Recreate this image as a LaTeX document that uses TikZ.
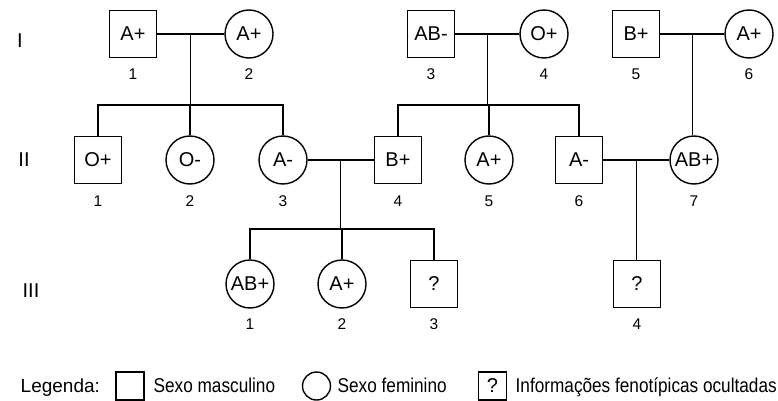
\documentclass[tikz,border=0pt]{standalone}
\usepackage{fontspec}
\setmainfont{Liberation Sans}
\newfontfamily\legfont{Liberation Sans}[FakeStretch=0.86]
\usetikzlibrary{calc}
\begin{document}
\begin{tikzpicture}[x=1pt,y=-1pt,
  line width=1.4pt,
  every node/.style={text=black},
  male/.style={draw, rectangle, minimum size=47pt, inner sep=0pt, font=\fontsize{20}{24}\selectfont},
  female/.style={draw, circle, minimum size=48pt, inner sep=0pt, font=\fontsize{20}{24}\selectfont},
  num/.style={font=\fontsize{15.5}{18}\selectfont, inner sep=0pt, anchor=base},
  gen/.style={font=\fontsize{20}{24}\selectfont, inner sep=0pt},
  legtxt/.style={font=\legfont\fontsize{20}{24}\selectfont, inner sep=0pt, anchor=base west},
  smallmale/.style={male, minimum size=28pt},
  smallfemale/.style={female, minimum size=28pt}
]
\useasboundingbox (0,0) rectangle (778,401);

% generation labels
\node[gen] (gI) at (20,41) {I};
\node[gen] (gII) at (24,160) {II};
\node[gen] (gIII) at (31,291) {III};

% generation I
\node[male] (I1) at (133,34) {A+};
\node[female] (I2) at (249,34) {A+};
\node[male] (I3) at (431,34) {AB-};
\node[female] (I4) at (544,34) {O+};
\node[male] (I5) at (636,34) {B+};
\node[female] (I6) at (749,34) {A+};
\node[num] (nI1) at (133,80) {1};
\node[num] (nI2) at (249,80) {2};
\node[num] (nI3) at (431,80) {3};
\node[num] (nI4) at (544,80) {4};
\node[num] (nI5) at (636,80) {5};
\node[num] (nI6) at (749,80) {6};

% generation II
\node[male] (II1) at (98,160) {O+};
\node[female] (II2) at (190,160) {O-};
\node[female] (II3) at (283,160) {A-};
\node[male] (II4) at (398,160) {B+};
\node[female] (II5) at (489,160) {A+};
\node[male] (II6) at (579,160) {A-};
\node[female] (II7) at (694,160) {AB+};
\node[num] (nII1) at (98,206) {1};
\node[num] (nII2) at (190,206) {2};
\node[num] (nII3) at (283,206) {3};
\node[num] (nII4) at (398,206) {4};
\node[num] (nII5) at (489,206) {5};
\node[num] (nII6) at (579,206) {6};
\node[num] (nII7) at (694,206) {7};

% generation III
\node[female] (III1) at (250,284) {AB+};
\node[female] (III2) at (342,284) {A+};
\node[male] (III3) at (434,284) {?};
\node[male] (III4) at (637,284) {?};
\node[num] (nIII1) at (250,329) {1};
\node[num] (nIII2) at (342,329) {2};
\node[num] (nIII3) at (434,329) {3};
\node[num] (nIII4) at (637,329) {4};

% couple I1 x I2
\draw (I1) -- (I2);
\coordinate (m1) at ($(I1.east)!0.5!(I2.west)$);
\coordinate (s1) at (190,105);
\draw (m1) -- (m1 |- s1);
\draw (II1.north) |- (s1) -| (II3.north);
\draw (II2.north) -- (II2.north |- s1);

% couple I3 x I4
\draw (I3) -- (I4);
\coordinate (m2) at ($(I3.east)!0.5!(I4.west)$);
\coordinate (s2) at (488,105);
\draw (m2) -- (m2 |- s2);
\draw (II4.north) |- (s2) -| (II6.north);
\draw (II5.north) -- (II5.north |- s2);

% couple I5 x I6
\draw (I5) -- (I6);
\coordinate (m3) at ($(I5.east)!0.5!(I6.west)$);
\draw (m3) -- (m3 |- II7.north);

% couple II3 x II4
\draw (II3) -- (II4);
\coordinate (m4) at ($(II3.east)!0.5!(II4.west)$);
\coordinate (s4) at (341,229);
\draw (m4) -- (m4 |- s4);
\draw (III1.north) |- (s4) -| (III3.north);
\draw (III2.north) -- (III2.north |- s4);

% couple II6 x II7
\draw (II6) -- (II7);
\coordinate (m5) at ($(II6.east)!0.5!(II7.west)$);
\draw (m5) -- (m5 |- III4.north);

% legend
\node[font=\fontsize{19}{23}\selectfont, inner sep=0pt, anchor=base west] (leg) at (20,392) {Legenda:};
\node[smallmale] (lm) at (130,386) {};
\node[legtxt] (lmt) at (153,392) {Sexo masculino};
\node[smallfemale] (lf) at (316.5,386) {};
\node[legtxt] (lft) at (337,392) {Sexo feminino};
\node[smallmale] (lq) at (492.5,386) {?};
\node[legtxt] (lqt) at (515,392) {Informações fenotípicas ocultadas};
\end{tikzpicture}
\end{document}
